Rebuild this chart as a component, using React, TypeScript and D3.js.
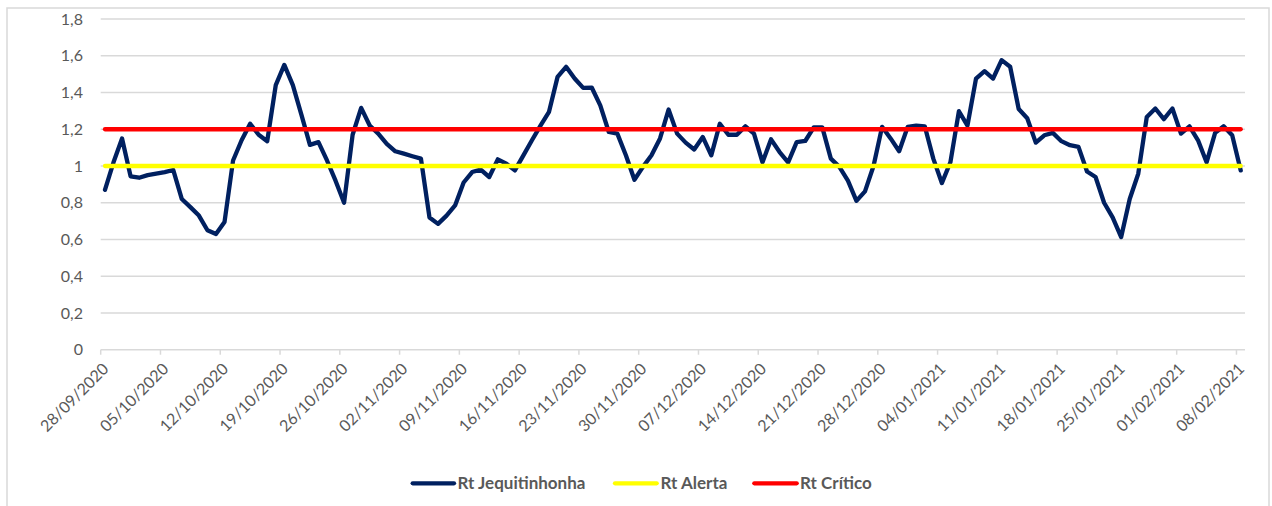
import React from "react";
import * as d3 from "d3";

// daily Rt values, 28/09/2020 .. 08/02/2021
const rtJequitinhonha = [
  0.87, 1.02, 1.15, 0.944, 0.936, 0.95, 0.958, 0.967, 0.978, 0.82,
  0.776, 0.73, 0.65, 0.63, 0.695, 1.03, 1.14, 1.23, 1.17, 1.135,
  1.44, 1.55, 1.44, 1.28, 1.115, 1.13, 1.03, 0.92, 0.8, 1.17,
  1.316, 1.22, 1.176, 1.12, 1.08, 1.067, 1.053, 1.04, 0.72, 0.685,
  0.73, 0.785, 0.91, 0.967, 0.98, 0.94, 1.036, 1.013, 0.976, 1.058,
  1.14, 1.22, 1.295, 1.485, 1.54, 1.476, 1.425, 1.427, 1.33, 1.185,
  1.176, 1.058, 0.925, 0.995, 1.058, 1.15, 1.307, 1.176, 1.127, 1.09,
  1.158, 1.058, 1.23, 1.17, 1.17, 1.216, 1.176, 1.02, 1.145, 1.076,
  1.02, 1.13, 1.136, 1.21, 1.21, 1.04, 0.995, 0.92, 0.81, 0.862,
  1.0, 1.213, 1.15, 1.08, 1.213, 1.22, 1.216, 1.04, 0.907, 1.02,
  1.298, 1.22, 1.476, 1.516, 1.476, 1.576, 1.54, 1.31, 1.26, 1.127,
  1.167, 1.18, 1.135, 1.113, 1.104, 0.97, 0.94, 0.8, 0.72, 0.613,
  0.82, 0.958, 1.267, 1.313, 1.255, 1.313, 1.176, 1.216, 1.14, 1.02,
  1.18, 1.216, 1.167, 0.976,
];
const rtAlerta = 1.0;
const rtCritico = 1.2;
const yTicks = [0, 0.2, 0.4, 0.6, 0.8, 1, 1.2, 1.4, 1.6, 1.8];

const startDate = new Date(Date.UTC(2020, 8, 28));
const endDate = new Date(Date.UTC(2021, 1, 9));
const dates = d3.utcDay.range(startDate, endDate);

const series = [
  { name: "Rt Jequitinhonha", color: "#002060", values: rtJequitinhonha },
  { name: "Rt Alerta", color: "#FFFF00", values: dates.map(() => rtAlerta) },
  { name: "Rt Crítico", color: "#FF0000", values: dates.map(() => rtCritico) },
];

const W = 1272;
const H = 506;
const FONT = "Lato, 'Open Sans', sans-serif";
const GREY = "#595959";
const GRID = "#d9d9d9";

export default function App() {
  const x = d3.scaleUtc().domain([startDate, endDate]).range([100.7, 1245]);
  const y = d3.scaleLinear().domain([0, 1.8]).range([349.7, 19]);

  const line = d3
    .line<number>()
    .x((_, i) => x(d3.utcHour.offset(dates[i], 12)))
    .y((d) => y(d));

  const weekTicks = d3.utcMonday.range(startDate, endDate);
  const fmtDate = d3.utcFormat("%d/%m/%Y");
  const fmtY = (v: number) => d3.format("~g")(v).replace(".", ",");

  const legendItems = [
    { s: series[0], x0: 412.7, x1: 454, tx: 457.5 },
    { s: series[1], x0: 615, x1: 656.7, tx: 660.5 },
    { s: series[2], x0: 754.3, x1: 796.7, tx: 800 },
  ];

  return (
    <svg
      width={W}
      height={H}
      style={{ position: "absolute", left: 0, top: 0, background: "#fff" }}
      fontFamily={FONT}
    >
      <rect x={7} y={8} width={1262} height={510} fill="#fff" stroke={GRID} strokeWidth={1.5} />

      {/* horizontal gridlines + y labels */}
      {yTicks.map((t) => (
        <g key={t}>
          <line x1={x.range()[0]} x2={x.range()[1]} y1={y(t)} y2={y(t)} stroke={GRID} strokeWidth={1.5} />
          <text x={83} y={y(t)} dy="0.35em" textAnchor="end" fontSize={16} fill={GREY}>
            {fmtY(t)}
          </text>
        </g>
      ))}

      {/* x ticks + rotated labels */}
      {weekTicks.map((t) => (
        <g key={+t}>
          <line x1={x(t)} x2={x(t)} y1={y(0)} y2={y(0) + 5} stroke={GRID} strokeWidth={1.5} />
          <text
            transform={`translate(${x(t) + 5},${366}) rotate(-45)`}
            dy="0.35em"
            textAnchor="end"
            fontSize={16}
            fill={GREY}
          >
            {fmtDate(t)}
          </text>
        </g>
      ))}

      {series.map((s) => (
        <path
          key={s.name}
          d={line(s.values) || ""}
          fill="none"
          stroke={s.color}
          strokeWidth={4.3}
          strokeLinejoin="round"
          strokeLinecap="round"
        />
      ))}

      {legendItems.map((it) => (
        <g key={it.s.name}>
          <line x1={it.x0} x2={it.x1} y1={483.3} y2={483.3} stroke={it.s.color} strokeWidth={4.3} strokeLinecap="round" />
          <text x={it.tx} y={483.3} dy="0.35em" fontSize={17} fontWeight="bold" fill={GREY}>
            {it.s.name}
          </text>
        </g>
      ))}
    </svg>
  );
}
